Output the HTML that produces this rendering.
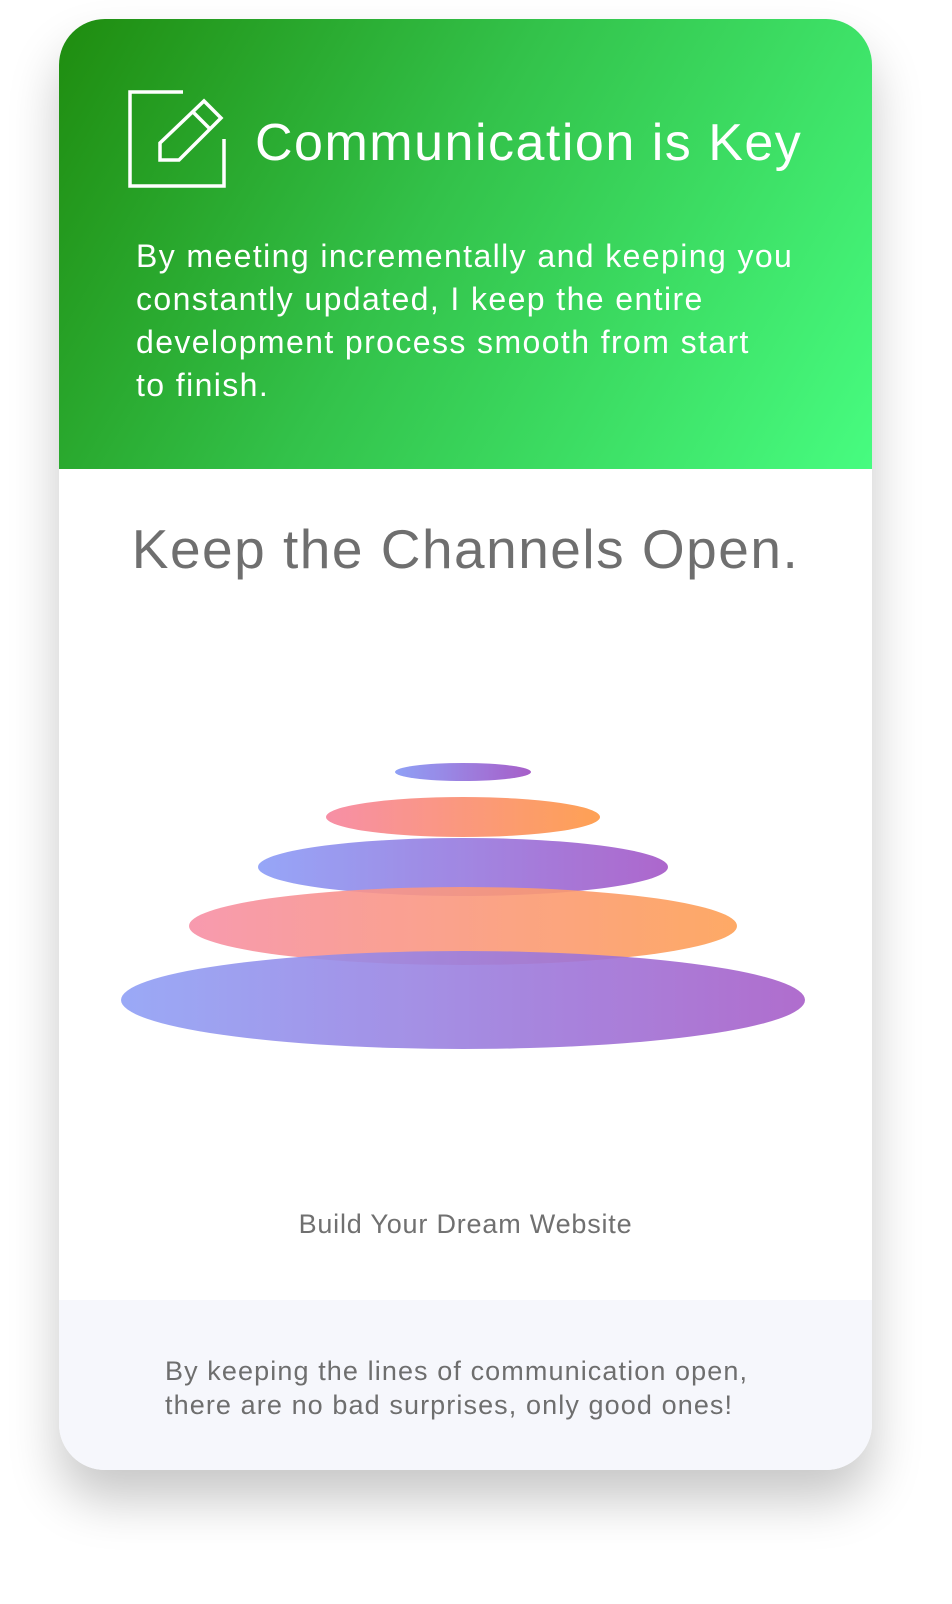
<!DOCTYPE html>
<html><head><style>
body{margin:0;width:952px;height:1604px;background:#fff;font-family:"Liberation Sans",sans-serif;position:relative;overflow:hidden}
.card{position:absolute;left:59px;top:19px;width:813px;height:1451px;border-radius:46px;background:#fff;overflow:hidden;box-shadow:0 30px 50px rgba(0,0,0,0.22)}
.hdr{position:absolute;left:0;top:0;width:813px;height:450px;background:linear-gradient(120deg,#1f8c0f 0%,#33c24a 45%,#47fc80 100%)}
.t1{position:absolute;left:196px;top:94px;color:#fff;font-size:52px;letter-spacing:1.5px;white-space:nowrap}
.p1{position:absolute;left:77px;top:216px;width:720px;color:#fff;font-size:32px;line-height:43px;letter-spacing:1.4px;white-space:nowrap}
.t2{position:absolute;left:0;width:813px;text-align:center;top:498px;color:#6f6f6f;font-size:55px;letter-spacing:1.5px}
.t3{position:absolute;left:0;width:813px;text-align:center;top:1190px;color:#707070;font-size:27px;letter-spacing:0.8px}
.ft{position:absolute;left:0;top:1281px;width:813px;height:170px;background:#f6f7fc}
.p2{position:absolute;left:106px;top:1335px;color:#6e6e6e;font-size:27px;line-height:34px;letter-spacing:1.1px;white-space:nowrap}
</style></head><body>
<div class="card">
<div class="hdr">
<svg style="position:absolute;left:0;top:0" width="813" height="450">
<g fill="none" stroke="#fff" stroke-width="3.5">
<polyline points="124,73 71,73 71,167 165,167 165,120"/>
<polygon points="101,124 101,141 120,141 162,99 145,82"/>
<line x1="134" y1="93" x2="151" y2="110"/>
</g></svg>
<div class="t1">Communication is Key</div>
<div class="p1">By meeting incrementally and keeping you<br>constantly updated, I keep the entire<br>development process smooth from start<br>to finish.</div>
</div>
<div class="t2">Keep the Channels Open.</div>
<svg style="position:absolute;left:0;top:0" width="813" height="1200">
<defs>
<linearGradient id="b" x1="0" x2="1"><stop offset="0" stop-color="#8a9cf6"/><stop offset="1" stop-color="#a356c6"/></linearGradient>
<linearGradient id="o" x1="0" x2="1"><stop offset="0" stop-color="#f78aa2"/><stop offset="1" stop-color="#fe9c4c"/></linearGradient>
</defs>
<g opacity="0.95">
<ellipse cx="404" cy="753" rx="68" ry="9" fill="url(#b)"/>
<ellipse cx="404" cy="798" rx="137" ry="20" fill="url(#o)"/>
<ellipse cx="404" cy="848" rx="205" ry="29" fill="url(#b)" opacity="0.95"/>
<ellipse cx="404" cy="907" rx="274" ry="39" fill="url(#o)" opacity="0.9"/>
<ellipse cx="404" cy="981" rx="342" ry="49" fill="url(#b)" opacity="0.9"/>
</g></svg>
<div class="t3">Build Your Dream Website</div>
<div class="ft"></div>
<div class="p2">By keeping the lines of communication open,<br>there are no bad surprises, only good ones!</div>
</div>
</body></html>
